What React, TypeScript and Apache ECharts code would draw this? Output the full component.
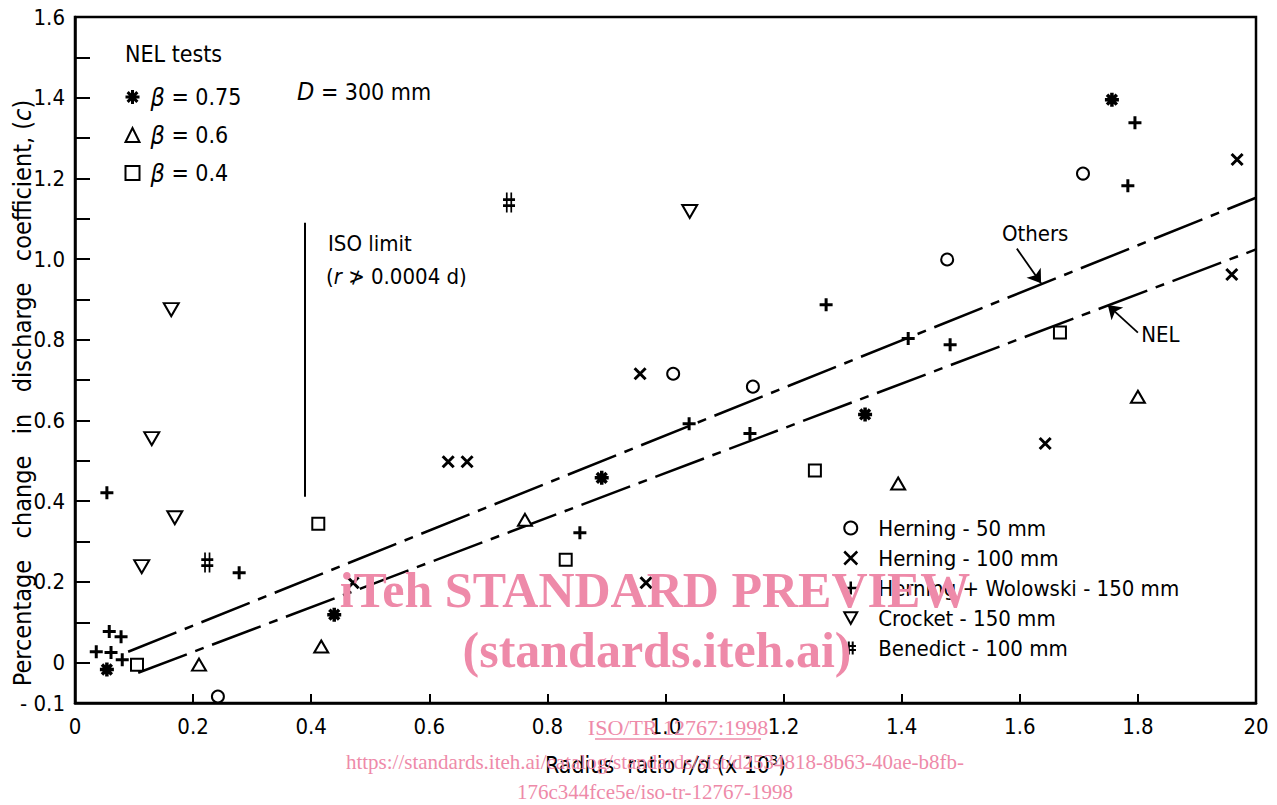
import React, { useEffect, useRef } from "react";
import * as echarts from "echarts";

// ---- axis tick labels ----
const xLabelValues = [0, 0.2, 0.4, 0.6, 0.8, 1.0, 1.2, 1.4, 1.6, 1.8, 2.0];
const xLabelTexts = ["0", "0.2", "0.4", "0.6", "0.8", "1.0", "1.2", "1.4", "1.6", "1.8", "20"];
const yLabelValues = [-0.1, 0, 0.2, 0.4, 0.6, 0.8, 1.0, 1.2, 1.4, 1.6];
const yLabelTexts = ["- 0.1", "0", "0.2", "0.4", "0.6", "0.8", "1.0", "1.2", "1.4", "1.6"];

// ---- NEL tests (D = 300 mm) ----
const nelBeta075 = [[0.054, -0.017], [0.439, 0.119], [0.892, 0.458], [1.338, 0.615], [1.756, 1.395]];
const nelBeta06 = [[0.21, -0.005], [0.417, 0.04], [0.762, 0.354], [1.394, 0.444], [1.8, 0.659]];
const nelBeta04 = [[0.105, -0.005], [0.412, 0.344], [0.831, 0.255], [1.253, 0.476], [1.668, 0.818]];

// ---- other tests ----
const herning50 = [[0.242, -0.084], [1.013, 0.716], [1.148, 0.684], [1.477, 0.999], [1.707, 1.212]];
const herning100 = [
  [0.471, 0.198], [0.632, 0.498], [0.664, 0.498], [0.957, 0.716],
  [0.967, 0.198], [1.643, 0.543], [1.968, 1.247], [1.959, 0.962],
];
const herningWolowski150 = [
  [0.054, 0.421], [0.036, 0.027], [0.058, 0.077], [0.078, 0.064], [0.061, 0.025],
  [0.08, 0.007], [0.278, 0.223], [0.855, 0.322], [1.04, 0.592], [1.143, 0.568],
  [1.272, 0.887], [1.411, 0.803], [1.482, 0.788], [1.795, 1.338], [1.783, 1.182],
];
const crocket150 = [[0.113, 0.238], [0.13, 0.555], [0.169, 0.359], [0.163, 0.875], [1.041, 1.118]];
const benedict100 = [[0.224, 0.248], [0.735, 1.14]];

// ---- trend lines and annotations ----
const othersLine = [[0.09, 0.027], [2.0, 1.152]];
const nelLine = [[0.107, -0.025], [2.0, 1.024]];
const isoLimit = [[0.389, 0.411], [0.389, 1.09]];
const othersArrow = [[1.595, 1.026], [1.636, 0.94]];
const othersLabelAt = [1.626, 1.063];
const nelArrow = [[1.8, 0.818], [1.749, 0.886]];
const nelLabelAt = [1.838, 0.813];

const FONT = '"DejaVu Sans Condensed", "Liberation Sans Narrow", "DejaVu Sans", sans-serif';
const SERIF = '"Liberation Serif", "DejaVu Serif", serif';
const PINK = "#ee8aa9";

const SYM = {
  asterisk: "path://M5,0L5,10M0,5L10,5M1.5,1.5L8.5,8.5M8.5,1.5L1.5,8.5",
  plus: "path://M5,0L5,10M0,5L10,5",
  cross: "path://M0,0L10,10M10,0L0,10",
  down: "path://M0,0L10,0L5,9Z",
  hash: "path://M3.5,0L3.5,10M6.5,0L6.5,10M1,3.5L9,3.5M1,6.5L9,6.5",
};

const strokeOnly = (w: number) => ({ color: "#000", borderColor: "#000", borderWidth: w, opacity: 1 });
const hollow = (w: number) => ({ color: "#fff", borderColor: "#000", borderWidth: w, opacity: 1 });

function buildOption() {
  const dash = [52, 9, 9, 9];
  const scatter = (name: string, data: number[][], symbol: string, size: any, itemStyle: any) => ({
    name,
    type: "scatter",
    data,
    symbol,
    symbolSize: size,
    itemStyle,
    z: 5,
  });
  const labelPoint = (coord: number[], text: string) => ({
    coord,
    symbol: "circle",
    symbolSize: 1,
    itemStyle: { color: "transparent" },
    label: {
      show: true,
      position: "inside",
      formatter: text,
      color: "#000",
      fontSize: 22,
      fontFamily: FONT,
    },
  });

  return {
    animation: false,
    backgroundColor: "#fff",
    grid: {
      left: 75,
      right: 21,
      top: 17,
      bottom: 102,
      show: true,
      borderColor: "#000",
      borderWidth: 2.5,
      backgroundColor: "transparent",
    },
    xAxis: {
      type: "value",
      min: 0,
      max: 2,
      interval: 0.2,
      name: "{a|Radius  ratio }{i|r/d}{a| (x 10}{s|3}{a|)}",
      nameLocation: "middle",
      nameGap: 50,
      nameTextStyle: {
        rich: {
          a: { fontSize: 23, fontFamily: FONT, color: "#000" },
          i: { fontSize: 23, fontFamily: FONT, fontStyle: "italic", color: "#000" },
          s: { fontSize: 14, fontFamily: FONT, color: "#000", verticalAlign: "top", padding: [0, 0, 10, 0] },
        },
      },
      axisLine: { onZero: false, lineStyle: { color: "#000", width: 2.5 } },
      axisTick: { inside: true, length: 9, lineStyle: { color: "#000", width: 2 } },
      axisLabel: {
        margin: 12,
        color: "#000",
        fontSize: 22,
        fontFamily: FONT,
        formatter: (v: number) => {
          const i = xLabelValues.findIndex((x) => Math.abs(x - v) < 1e-6);
          return i >= 0 ? xLabelTexts[i] : "";
        },
      },
      splitLine: { show: false },
    },
    yAxis: {
      type: "value",
      min: -0.1,
      max: 1.6,
      interval: 0.1,
      axisLine: { show: true, onZero: false, lineStyle: { color: "#000", width: 2.5 } },
      axisTick: { show: true, inside: true, length: 15, lineStyle: { color: "#000", width: 2 } },
      axisLabel: {
        margin: 10,
        color: "#000",
        fontSize: 22,
        fontFamily: FONT,
        formatter: (v: number) => {
          const i = yLabelValues.findIndex((y) => Math.abs(y - v) < 1e-6);
          return i >= 0 ? yLabelTexts[i] : "";
        },
      },
      splitLine: { show: false },
    },
    legend: [
      {
        orient: "vertical",
        left: 119,
        top: 79,
        itemWidth: 14,
        itemHeight: 14,
        itemGap: 12,
        itemTextGap: 12,
        textStyle: {
          fontSize: 23,
          lineHeight: 26,
          fontFamily: FONT,
          color: "#000",
          padding: [0, 0, 0, 6],
          rich: { b: { fontSize: 25, fontStyle: "italic", fontFamily: FONT, color: "#000" } },
        },
        formatter: (n: string) => "{b|β}" + n.replace("β", ""),
        selectedMode: false,
        data: [
          { name: "β = 0.75", icon: SYM.asterisk, itemStyle: strokeOnly(3) },
          { name: "β = 0.6", icon: "triangle", itemStyle: hollow(2) },
          { name: "β = 0.4", icon: "rect", itemStyle: hollow(2) },
        ],
      },
      {
        orient: "vertical",
        left: 838,
        top: 511,
        itemWidth: 13,
        itemHeight: 13,
        itemGap: 6,
        itemTextGap: 24,
        textStyle: { fontSize: 22, lineHeight: 24, fontFamily: FONT, color: "#000", padding: [0, 0, 0, 16] },
        selectedMode: false,
        data: [
          { name: "Herning - 50 mm", icon: "circle", itemStyle: hollow(2) },
          { name: "Herning - 100 mm", icon: SYM.cross, itemStyle: strokeOnly(2.5) },
          { name: "Herning + Wolowski - 150 mm", icon: SYM.plus, itemStyle: strokeOnly(2.5) },
          { name: "Crocket - 150 mm", icon: SYM.down, itemStyle: hollow(2) },
          { name: "Benedict - 100 mm", icon: SYM.hash, itemStyle: strokeOnly(2) },
        ],
      },
    ],
    graphic: [
      {
        type: "text",
        left: 125,
        top: 42,
        style: { text: "NEL tests", fontSize: 23, fontFamily: FONT, fill: "#000" },
      },
      {
        type: "text",
        left: 297,
        top: 79,
        style: {
          text: "{i|D} = 300 mm",
          fontSize: 23,
          fontFamily: FONT,
          fill: "#000",
          rich: { i: { fontStyle: "italic", fontSize: 25, fontFamily: FONT, fill: "#000" } },
        },
      },
      {
        type: "text",
        left: 328,
        top: 232,
        style: { text: "ISO limit", fontSize: 22, fontFamily: FONT, fill: "#000" },
      },
      {
        type: "text",
        left: 326,
        top: 265,
        style: {
          text: "({i|r} ≯ 0.0004 d)",
          fontSize: 22,
          fontFamily: FONT,
          fill: "#000",
          rich: { i: { fontStyle: "italic", fontSize: 22, fontFamily: FONT, fill: "#000" } },
        },
      },
      {
        type: "text",
        x: 22,
        y: 393,
        rotation: Math.PI / 2,
        style: {
          text: "Percentage   change   in   discharge   coefficient, ({i|c})",
          fontSize: 25,
          fontFamily: FONT,
          fill: "#000",
          align: "center",
          verticalAlign: "middle",
          rich: { i: { fontStyle: "italic", fontSize: 25, fontFamily: FONT, fill: "#000" } },
        },
      },
      // watermark
      {
        type: "text",
        x: 655,
        y: 590,
        z: 100,
        style: {
          text: "iTeh STANDARD PREVIEW",
          fontSize: 50,
          fontWeight: "bold",
          fontFamily: SERIF,
          fill: PINK,
          align: "center",
          verticalAlign: "middle",
        },
      },
      {
        type: "text",
        x: 657,
        y: 650,
        z: 100,
        style: {
          text: "(standards.iteh.ai)",
          fontSize: 50,
          fontWeight: "bold",
          fontFamily: SERIF,
          fill: PINK,
          align: "center",
          verticalAlign: "middle",
        },
      },
      {
        type: "text",
        x: 678,
        y: 727,
        z: 100,
        style: {
          text: "ISO/TR 12767:1998",
          fontSize: 22,
          fontFamily: SERIF,
          fill: PINK,
          align: "center",
          verticalAlign: "middle",
        },
      },
      {
        type: "line",
        z: 100,
        shape: { x1: 595, y1: 739, x2: 761, y2: 739 },
        style: { stroke: PINK, lineWidth: 1.5 },
      },
      {
        type: "text",
        x: 655,
        y: 762,
        z: 100,
        style: {
          text: "https://standards.iteh.ai/catalog/standards/sist/d2534818-8b63-40ae-b8fb-",
          fontSize: 21,
          fontFamily: SERIF,
          fill: PINK,
          align: "center",
          verticalAlign: "middle",
        },
      },
      {
        type: "text",
        x: 655,
        y: 792,
        z: 100,
        style: {
          text: "176c344fce5e/iso-tr-12767-1998",
          fontSize: 21,
          fontFamily: SERIF,
          fill: PINK,
          align: "center",
          verticalAlign: "middle",
        },
      },
    ],
    series: [
      {
        name: "Others",
        type: "line",
        data: othersLine,
        showSymbol: false,
        symbol: "none",
        silent: true,
        lineStyle: { color: "#000", width: 2.5, type: dash },
        markLine: {
          silent: true,
          label: { show: false },
          data: [
            [
              { coord: isoLimit[0], symbol: "none", lineStyle: { type: "solid", color: "#000", width: 2 } },
              { coord: isoLimit[1], symbol: "none" },
            ],
            [
              { coord: othersArrow[0], symbol: "none", lineStyle: { type: "solid", color: "#000", width: 1.8 } },
              { coord: othersArrow[1], symbol: "arrow", symbolSize: 13 },
            ],
          ],
        },
        markPoint: { silent: true, data: [labelPoint(othersLabelAt, "Others")] },
      },
      {
        name: "NEL",
        type: "line",
        data: nelLine,
        showSymbol: false,
        symbol: "none",
        silent: true,
        lineStyle: { color: "#000", width: 2.5, type: dash },
        markLine: {
          silent: true,
          label: { show: false },
          data: [
            [
              { coord: nelArrow[0], symbol: "none", lineStyle: { type: "solid", color: "#000", width: 1.8 } },
              { coord: nelArrow[1], symbol: "arrow", symbolSize: 13 },
            ],
          ],
        },
        markPoint: { silent: true, data: [labelPoint(nelLabelAt, "NEL")] },
      },
      scatter("β = 0.75", nelBeta075, SYM.asterisk, 14, strokeOnly(3.5)),
      scatter("β = 0.6", nelBeta06, "triangle", [14, 12], hollow(2)),
      scatter("β = 0.4", nelBeta04, "rect", 12, hollow(2)),
      scatter("Herning - 50 mm", herning50, "circle", 12, hollow(2)),
      scatter("Herning - 100 mm", herning100, SYM.cross, 11, strokeOnly(3)),
      scatter("Herning + Wolowski - 150 mm", herningWolowski150, SYM.plus, 13, strokeOnly(3)),
      scatter("Crocket - 150 mm", crocket150, SYM.down, [15, 13], hollow(2)),
      scatter("Benedict - 100 mm", benedict100, SYM.hash, [12, 20], strokeOnly(2.2)),
    ],
  };
}

export default function App() {
  const ref = useRef<HTMLDivElement>(null);
  useEffect(() => {
    if (!ref.current) return;
    const chart = echarts.init(ref.current, null, { renderer: "svg" });
    chart.setOption(buildOption() as any);
    return () => chart.dispose();
  }, []);
  return (
    <div
      ref={ref}
      style={{ position: "absolute", left: 0, top: 0, width: 1277, height: 805, background: "#fff" }}
    />
  );
}
